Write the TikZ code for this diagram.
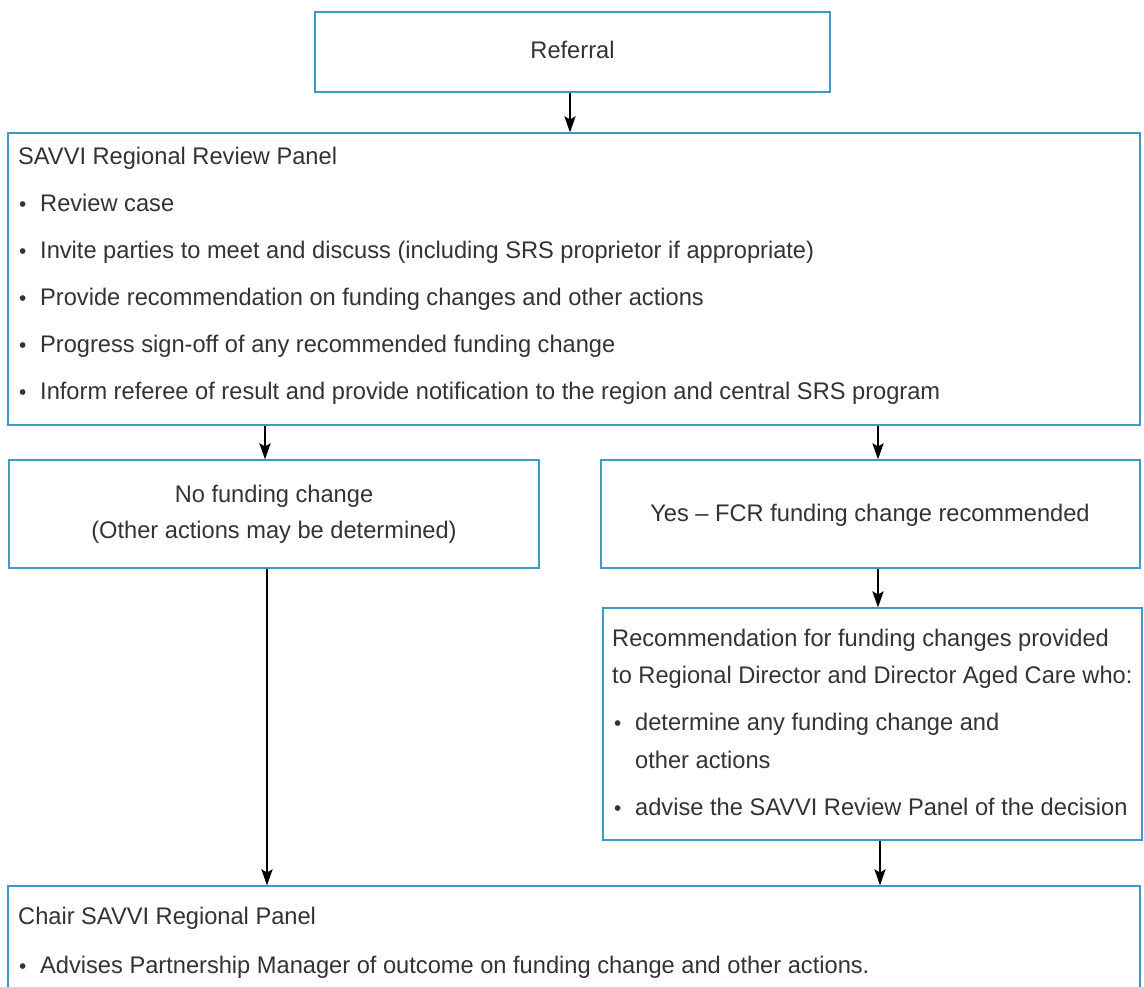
\documentclass[tikz,border=0pt]{standalone}
\usepackage{fontspec}
\setmainfont{Liberation Sans}[FakeStretch=0.985]
\usetikzlibrary{arrows.meta,calc}
\definecolor{boxblue}{HTML}{3A9CC0}
\definecolor{txt}{HTML}{333333}
\tikzset{
  box/.style={draw=boxblue,line width=1.1pt,rectangle,inner sep=0pt},
  arr/.style={line width=2.6pt,black,-{Stealth[length=16pt,width=11pt,inset=3pt]}},
  t/.style={anchor=base west,inner sep=0pt,text=txt,font=\fontsize{24}{28}\selectfont},
  tc/.style={anchor=base,inner sep=0pt,text=txt,font=\fontsize{24}{28}\selectfont},
  bul/.style={anchor=base west,inner sep=0pt,text=txt,font=\fontsize{21}{28}\selectfont},
}
\begin{document}
\begin{tikzpicture}[x=1pt,y=-1pt]
\useasboundingbox (0,0) rectangle (1144,986);
\clip (0,0) rectangle (1144,986);
% boxes
\node[box,minimum width=515pt,minimum height=80pt] (ref) at (572.5,52) {};
\node[box,minimum width=1132pt,minimum height=292pt] (savvi) at (574,279) {};
\node[box,minimum width=530pt,minimum height=108pt] (nofund) at (274,514) {};
\node[box,minimum width=539pt,minimum height=108pt] (yes) at (870.5,514) {};
\node[box,minimum width=539pt,minimum height=232pt] (rec) at (872.5,724) {};
\node[box,minimum width=1132pt,minimum height=124pt] (chair) at (574,948) {};
% texts
\node[tc] (t0) at (572.5,58) {Referral};
\node[t] (t1) at (18,164) {SAVVI Regional Review Panel};
\node[bul] (b1) at (19,211) {•}; \node[t] (t2) at (40,211) {Review case};
\node[bul] (b2) at (19,258) {•}; \node[t] (t3) at (40,258) {Invite parties to meet and discuss (including SRS proprietor if appropriate)};
\node[bul] (b3) at (19,305) {•}; \node[t] (t4) at (40,305) {Provide recommendation on funding changes and other actions};
\node[bul] (b4) at (19,352) {•}; \node[t] (t5) at (40,352) {Progress sign-off of any recommended funding change};
\node[bul] (b5) at (19,399) {•}; \node[t] (t6) at (40,399) {Inform referee of result and provide notification to the region and central SRS program};
\node[tc] (t7) at (274,502) {No funding change};
\node[tc] (t8) at (274,538) {(Other actions may be determined)};
\node[tc] (t9) at (870,521) {Yes – FCR funding change recommended};
\node[t] (t10) at (612,646) {Recommendation for funding changes provided};
\node[t] (t11) at (612,683) {to Regional Director and Director Aged Care who:};
\node[bul] (b6) at (614,730) {•}; \node[t] (t12) at (635,730) {determine any funding change and};
\node[t] (t13) at (635,768) {other actions};
\node[bul] (b7) at (614,815) {•}; \node[t] (t14) at (635,815) {advise the SAVVI Review Panel of the decision};
\node[t] (t15) at (18,924) {Chair SAVVI Regional Panel};
\node[bul] (b8) at (19,973) {•}; \node[t] (t16) at (40,973) {Advises Partnership Manager of outcome on funding change and other actions.};
% connectors
\draw[arr] ([xshift=-2.5pt]ref.south) -- ([xshift=-2.5pt]ref.south |- savvi.north);
\draw[arr] ([xshift=-9pt]nofund.north |- savvi.south) -- ([xshift=-9pt]nofund.north);
\draw[arr] ([xshift=7.5pt]yes.north |- savvi.south) -- ([xshift=7.5pt]yes.north);
\draw[arr] ([xshift=7.5pt]yes.south) -- ([xshift=7.5pt]yes.south |- rec.north);
\draw[arr] ([xshift=-7pt]nofund.south) -- ([xshift=-7pt]nofund.south |- chair.north);
\draw[arr] ([xshift=7.5pt]rec.south) -- ([xshift=7.5pt]rec.south |- chair.north);
\end{tikzpicture}
\end{document}
